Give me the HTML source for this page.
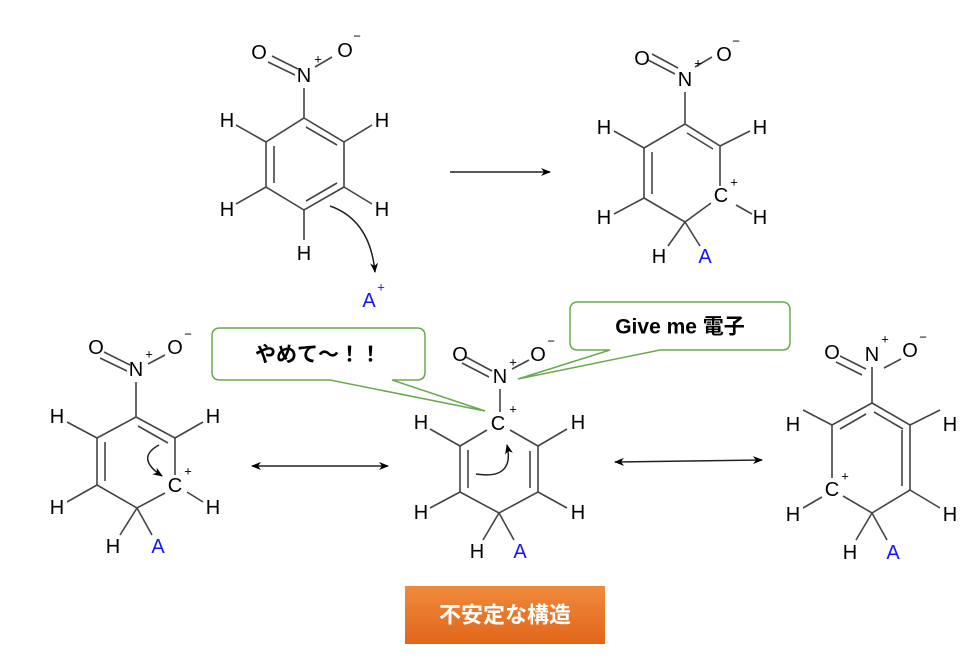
<!DOCTYPE html>
<html><head><meta charset="utf-8"><style>
html,body{margin:0;padding:0;background:#fff;}
svg{display:block;}
text{font-family:"Liberation Sans","Noto Sans CJK JP",sans-serif;}
.a{font-size:20px;fill:#000;text-anchor:middle;dominant-baseline:central;}
.b{fill:#1414ff;}
.s{font-size:13px;fill:#000;text-anchor:middle;dominant-baseline:central;}
.sb{fill:#1414ff;}
</style></head><body>
<svg width="970" height="659" viewBox="0 0 970 659" xmlns="http://www.w3.org/2000/svg">
<defs>
<marker id="ar" markerWidth="10" markerHeight="8" refX="9" refY="4" orient="auto" markerUnits="userSpaceOnUse">
<path d="M0,0 L10,4 L0,8 L3,4 Z" fill="#000"/></marker>
<marker id="al" markerWidth="10" markerHeight="8" refX="1" refY="4" orient="auto" markerUnits="userSpaceOnUse">
<path d="M10,0 L0,4 L10,8 L7,4 Z" fill="#000"/></marker>
</defs>
<g stroke="#444" stroke-width="1.6" fill="none">
<!-- Molecule 1 -->
<path d="M304,88 L304,118"/>
<path d="M304,118 L344,142 L344,187 L304,210 L266,187 L266,142 Z"/>
<path d="M306,127 L337,145 M274,146 L274,183 M306,201 L337,183"/>
<path d="M266,142 L236,125 M344,142 L372,125 M266,187 L236,204 M344,187 L372,204 M304,210 L304,240"/>
<path d="M268,62 L295,75 M272,56 L298,69 M315,67 L332,57"/>
<!-- Molecule 2 -->
<path d="M685,92 L685,124 L720,146 L720,186 M711,203 L685,222 L644,198 L644,148 L685,124"/>
<path d="M687,133 L713,149 M652,152 L652,194"/>
<path d="M644,148 L614,131 M720,146 L750,131 M644,198 L614,214 M736,205 L752,214 M685,222 L668,246 M685,222 L700,246"/>
<path d="M648,60 L675,74 M652,54 L678,68 M695,67 L712,57"/>
<!-- Bottom left -->
<path d="M136,382 L136,417 L175,438 L175,475 M165,493 L137,508 L97,485 L97,438 L136,417"/>
<path d="M138,426 L168,443 M105,442 L105,481"/>
<path d="M97,438 L67,422 M175,438 L203,422 M97,485 L67,502 M187,492 L203,502 M137,508 L120,535 M137,508 L152,535"/>
<path d="M100,358 L127,371 M104,352 L130,365 M148,364 L165,355"/>
<!-- Bottom middle -->
<path d="M500,389 L500,412 M510,430 L538,446 L538,492 L499,513 L460,492 L460,446 L487,430"/>
<path d="M530,451 L530,488 M468,450 L468,488"/>
<path d="M460,446 L430,429 M538,446 L567,429 M460,492 L430,508 M538,492 L567,508 M499,513 L483,540 M499,513 L514,540"/>
<path d="M462,363 L489,377 M466,357 L492,371 M512,369 L529,360"/>
<!-- Bottom right -->
<path d="M872,367 L872,403 L910,425 L910,490 L872,513 L843,496 M832,478 L832,425 L872,403"/>
<path d="M874,412 L903,429 M902,430 L902,486 M840,429 L866,414"/>
<path d="M832,425 L803,410 M910,425 L940,410 M822,497 L803,508 M910,490 L940,508 M872,513 L856,540 M872,513 L887,540"/>
<path d="M836,362 L862,375 M840,356 L866,369 M884,368 L901,359"/>
</g>
<g stroke="#222" stroke-width="1.5" fill="none">
<path d="M330,206 Q370,220 375,272" marker-end="url(#ar)"/>
<path d="M159,445 Q135,458 162,476" marker-end="url(#ar)"/>
<path d="M476,474 Q515,480 507,445" marker-end="url(#ar)"/>
<path d="M450,172 L550,172" marker-end="url(#ar)"/>
<path d="M252,466 L388,466" marker-start="url(#al)" marker-end="url(#ar)"/>
<path d="M615,462 L762,460" marker-start="url(#al)" marker-end="url(#ar)"/>
</g>
<text class="a" x="304" y="76">N</text><text class="s" x="318" y="59">+</text>
<text class="a" x="259" y="53">O</text><text class="a" x="345" y="51">O</text><text class="s" x="357" y="36">−</text>
<text class="a" x="227" y="121">H</text><text class="a" x="382" y="121">H</text>
<text class="a" x="227" y="210">H</text><text class="a" x="382" y="210">H</text>
<text class="a" x="304" y="254">H</text>
<text class="a b" x="369" y="301">A</text><text class="s sb" x="381" y="287">+</text>
<text class="a" x="685" y="80">N</text><text class="s" x="698" y="63">+</text>
<text class="a" x="642" y="59">O</text><text class="a" x="724" y="55">O</text><text class="s" x="736" y="41">−</text>
<text class="a" x="721" y="196">C</text><text class="s" x="734" y="182">+</text>
<text class="a" x="604" y="128">H</text><text class="a" x="760" y="128">H</text>
<text class="a" x="604" y="218">H</text><text class="a" x="760" y="218">H</text>
<text class="a" x="659" y="257">H</text><text class="a b" x="705" y="257">A</text>
<text class="a" x="136" y="370">N</text><text class="s" x="149" y="354">+</text>
<text class="a" x="96" y="348">O</text><text class="a" x="175" y="348">O</text><text class="s" x="188" y="334">−</text>
<text class="a" x="175" y="486">C</text><text class="s" x="188" y="471">+</text>
<text class="a" x="57" y="417">H</text><text class="a" x="213" y="417">H</text>
<text class="a" x="57" y="508">H</text><text class="a" x="213" y="508">H</text>
<text class="a" x="113" y="547">H</text><text class="a b" x="158" y="547">A</text>
<text class="a" x="500" y="377">N</text><text class="s" x="513" y="362">+</text>
<text class="a" x="460" y="355">O</text><text class="a" x="538" y="355">O</text><text class="s" x="551" y="341">−</text>
<text class="a" x="498" y="424">C</text><text class="s" x="513" y="409">+</text>
<text class="a" x="421" y="423">H</text><text class="a" x="578" y="423">H</text>
<text class="a" x="421" y="513">H</text><text class="a" x="578" y="513">H</text>
<text class="a" x="477" y="552">H</text><text class="a b" x="520" y="552">A</text>
<text class="a" x="872" y="355">N</text><text class="s" x="885" y="339">+</text>
<text class="a" x="832" y="353">O</text><text class="a" x="910" y="351">O</text><text class="s" x="923" y="337">−</text>
<text class="a" x="832" y="490">C</text><text class="s" x="845" y="476">+</text>
<text class="a" x="793" y="425">H</text><text class="a" x="950" y="425">H</text>
<text class="a" x="793" y="515">H</text><text class="a" x="950" y="515">H</text>
<text class="a" x="850" y="553">H</text><text class="a b" x="893" y="553">A</text>
<path d="M220,328 L417,328 Q425,328 425,336 L425,372 Q425,380 417,380 L392,380 L485,411 L330,380 L220,380 Q212,380 212,372 L212,336 Q212,328 220,328 Z" fill="#fff" stroke="#6aa84f" stroke-width="1.5"/>
<text x="318" y="355" style="font-size:21px;font-weight:bold;" text-anchor="middle" dominant-baseline="central">やめて〜！！</text>
<path d="M578,302 L782,302 Q790,302 790,310 L790,342 Q790,350 782,350 L660,350 L518,379 L610,350 L578,350 Q570,350 570,342 L570,310 Q570,302 578,302 Z" fill="#fff" stroke="#6aa84f" stroke-width="1.5"/>
<text x="680" y="327" style="font-size:21px;font-weight:bold;" text-anchor="middle" dominant-baseline="central">Give me 電子</text>
<defs><linearGradient id="og" x1="0" y1="0" x2="0" y2="1"><stop offset="0" stop-color="#f08a3c"/><stop offset="1" stop-color="#e0661a"/></linearGradient></defs>
<rect x="405" y="586" width="200" height="58" fill="url(#og)"/>
<text x="505" y="615" style="font-size:22px;font-weight:bold;fill:#fff;" text-anchor="middle" dominant-baseline="central">不安定な構造</text>
</svg>
</body></html>
